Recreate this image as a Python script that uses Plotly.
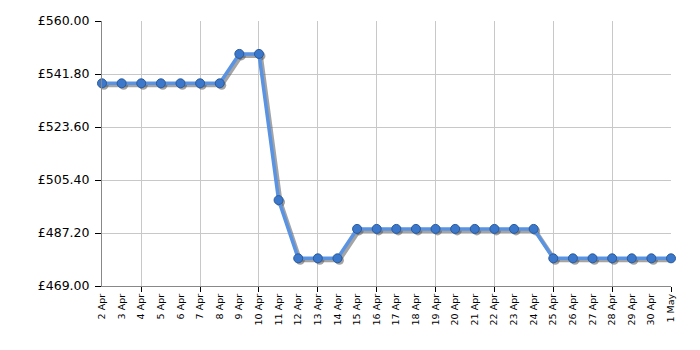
import plotly.graph_objects as go

dates = ["2 Apr", "3 Apr", "4 Apr", "5 Apr", "6 Apr", "7 Apr", "8 Apr", "9 Apr", "10 Apr",
         "11 Apr", "12 Apr", "13 Apr", "14 Apr", "15 Apr", "16 Apr", "17 Apr", "18 Apr",
         "19 Apr", "20 Apr", "21 Apr", "22 Apr", "23 Apr", "24 Apr", "25 Apr", "26 Apr",
         "27 Apr", "28 Apr", "29 Apr", "30 Apr", "1 May"]
prices = [538.6, 538.6, 538.6, 538.6, 538.6, 538.6, 538.6, 548.7, 548.7,
          498.5, 478.5, 478.5, 478.5, 488.6, 488.6, 488.6, 488.6,
          488.6, 488.6, 488.6, 488.6, 488.6, 488.6, 478.5, 478.5,
          478.5, 478.5, 478.5, 478.5, 478.5]
y_ticks = [469.0, 487.2, 505.4, 523.6, 541.8, 560.0]
y_labels = ["£469.00", "£487.20", "£505.40", "£523.60", "£541.80", "£560.00"]
grid_dates = ["4 Apr", "7 Apr", "10 Apr", "13 Apr", "16 Apr", "19 Apr", "22 Apr", "25 Apr", "28 Apr", "1 May"]

idx = list(range(len(dates)))
grid_idx = [dates.index(d) for d in grid_dates]

W, H = 700, 350
ml, mr, mt, mb = 102, 29, 21, 64
pw, ph = W - ml - mr, H - mt - mb
xr = [0, len(dates) - 1]
yr = [y_ticks[0], y_ticks[-1]]
sx = 2 * (xr[1] - xr[0]) / pw
sy = 2 * (yr[1] - yr[0]) / ph

font = "DejaVu Sans, Verdana, sans-serif"
fig = go.Figure()
# invisible anchor so the main subplot exists
fig.add_trace(go.Scatter(x=idx, y=prices, mode="markers", marker=dict(size=1, opacity=0),
                         hoverinfo="skip", showlegend=False))
# shadow
fig.add_trace(go.Scatter(x=idx, y=prices, xaxis="x2", yaxis="y2", mode="lines+markers",
                         line=dict(color="rgba(90,90,90,0.55)", width=4),
                         marker=dict(size=9, color="rgba(90,90,90,0.55)"),
                         cliponaxis=False, hoverinfo="skip", showlegend=False))
# main
fig.add_trace(go.Scatter(x=idx, y=prices, xaxis="x3", yaxis="y3", mode="lines+markers",
                         line=dict(color="#5a93e2", width=3.5),
                         marker=dict(size=9, color="#3b78cc", line=dict(color="#2b5a9a", width=1)),
                         cliponaxis=False, showlegend=False))

fig.update_layout(
    width=W, height=H, autosize=False,
    margin=dict(l=ml, r=mr, t=mt, b=mb),
    plot_bgcolor="white", paper_bgcolor="white",
    font=dict(family=font, color="#000"),
    xaxis=dict(range=xr, tickvals=grid_idx, showticklabels=False, ticks="outside", ticklen=5,
               tickcolor="#000", showgrid=True, gridcolor="#c8c8c8", gridwidth=1,
               showline=True, linecolor="#888", linewidth=1, zeroline=False),
    yaxis=dict(range=yr, tickvals=y_ticks, ticktext=y_labels, ticks="outside", ticklen=6,
               tickcolor="#000", showgrid=True, gridcolor="#c8c8c8", gridwidth=1,
               showline=True, linecolor="#888", linewidth=1, zeroline=False,
               ticklabelstandoff=3,
               tickfont=dict(size=12.5, family=font, color="#000")),
    xaxis2=dict(overlaying="x", range=[xr[0] - sx, xr[1] - sx], visible=False),
    yaxis2=dict(overlaying="y", range=[yr[0] + sy, yr[1] + sy], visible=False),
    xaxis3=dict(overlaying="x", anchor="y", range=xr, tickvals=idx, ticktext=dates, tickangle=-90,
                showgrid=False, zeroline=False, ticks="", ticklabelstandoff=5,
                tickfont=dict(size=9.5, family=font, color="#000")),
    yaxis3=dict(overlaying="y", range=yr, visible=False),
)
fig.write_html("out.html")
